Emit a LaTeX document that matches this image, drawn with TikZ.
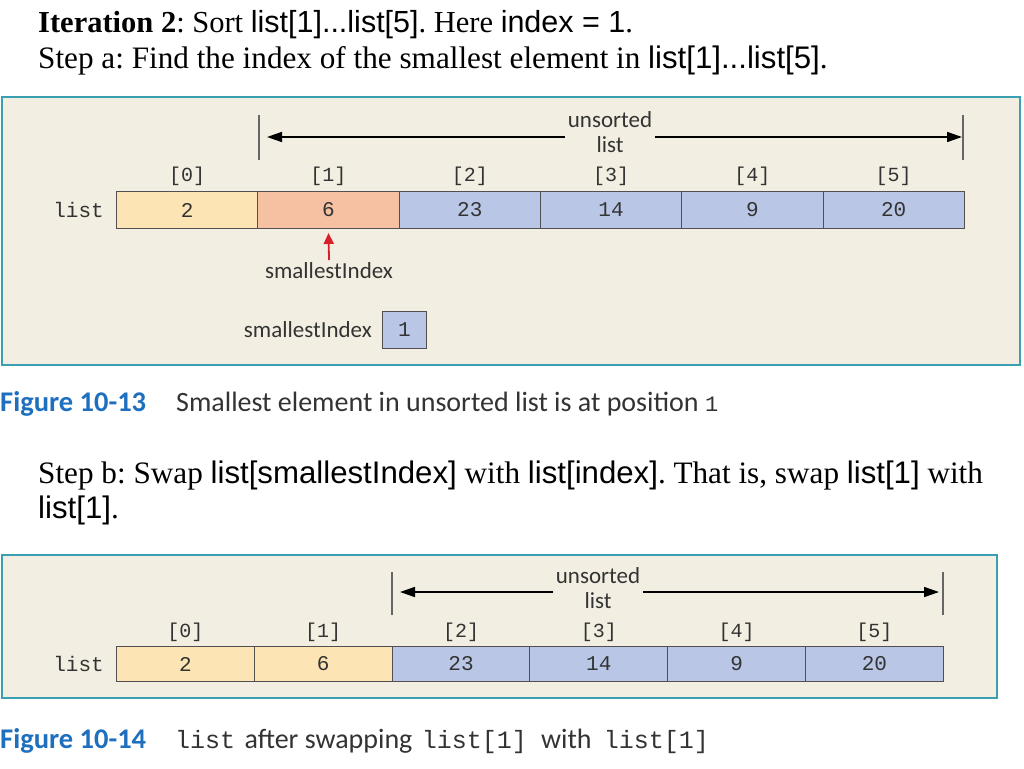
\documentclass[tikz,border=0pt]{standalone}
\usepackage{fontspec}
\setmainfont{Liberation Serif}
\setmonofont{Liberation Mono}
\newfontfamily\arialf{Liberation Sans}
\newfontfamily\carl{Carlito}
\usetikzlibrary{arrows.meta}
\definecolor{panelfill}{HTML}{F2EFE2}
\definecolor{panelborder}{HTML}{3A9FB0}
\definecolor{cellyellow}{HTML}{FCE4B4}
\definecolor{cellsalmon}{HTML}{F6C1A2}
\definecolor{cellblue}{HTML}{B9C6E6}
\definecolor{cellline}{HTML}{505050}
\definecolor{figblue}{HTML}{1F6FBF}
\definecolor{redarrow}{HTML}{D8202A}
\definecolor{textgray}{HTML}{333333}
\frenchspacing
\begin{document}
\begin{tikzpicture}[x=1pt,y=-1pt,
  panel/.style={draw=panelborder, line width=2.5pt, fill=panelfill},
  headline/.style={anchor=base west, inner sep=0pt, font=\fontsize{30.5}{36}\selectfont, text=black},
  headlineb/.style={headline, font=\fontsize{31.2}{36}\selectfont},
  cellbox/.style={draw=cellline, line width=1pt, minimum height=37pt, inner sep=0pt, anchor=north west, font=\ttfamily\fontsize{21}{21}\selectfont, text=textgray},
  idxlabel/.style={inner sep=0pt, font=\ttfamily\fontsize{20}{20}\selectfont, text=textgray},
  listlabel/.style={inner sep=0pt, anchor=east, font=\ttfamily\fontsize{21}{21}\selectfont, text=textgray},
  sanslabel/.style={inner sep=2pt, font=\carl\fontsize{23}{25}\selectfont, text=textgray},
  ticklines/.style={draw=gray!80!black, line width=1.2pt},
  unsarrow/.style={draw=black, line width=1.6pt, -{Triangle[length=15pt,width=10pt]}},
  redarr/.style={draw=redarrow, line width=1.8pt, -{Triangle[length=11pt,width=10pt]}},
  figlabel/.style={anchor=base west, inner sep=0pt, font=\carl\bfseries\fontsize{28.5}{28}\selectfont, text=figblue},
  figtext/.style={anchor=base west, inner sep=0pt, font=\carl\fontsize{28}{28}\selectfont, text=textgray}
]
\newcommand\capmono[1]{{\ttfamily\fontsize{25}{25}\selectfont #1}}
\useasboundingbox (0,0) rectangle (1024,768);
\fill[white] (0,0) rectangle (1024,768);

% headings
\node[headline] (h1) at (38,33) {\textbf{Iteration 2}: Sort {\arialf list[1]...list[5]}. Here {\arialf index = 1}.};
\node[headlineb] (h2) at (38,68) {Step a: Find the index of the smallest element in {\arialf list[1]...list[5]}.};

% panel 1
\draw[panel] (2,97) rectangle (1020,365);
\foreach \i/\v/\c in {0/2/cellyellow,1/6/cellsalmon,2/23/cellblue,3/14/cellblue,4/9/cellblue,5/20/cellblue}{
  \node[cellbox, minimum width=141.3pt, fill=\c] (a\i) at ({116+141.3*\i},191) {\v};
  \path (a\i.north) ++(0,-15) node[idxlabel] (ai\i) {[\i]};
}
\node[listlabel] (al) at ([xshift=-12pt]a0.west) {list};
\coordinate (ta1) at (259,115); \coordinate (tb1) at (259,160);
\coordinate (tc1) at (963,115); \coordinate (td1) at (963,160);
\coordinate (la1) at (259,137); \coordinate (ra1) at (963,137);
\draw[ticklines] (ta1) -- (tb1);
\draw[ticklines] (tc1) -- (td1);
\node[sanslabel, align=center, inner sep=3pt] (u1) at (610,132) {unsorted\\list};
\draw[unsarrow, shorten >=8pt] (u1.west |- la1) -- (la1);
\draw[unsarrow, shorten >=1pt] (u1.east |- ra1) -- (ra1);
\node[sanslabel, anchor=north] (s1) at (329,260) {smallestIndex};
\draw[redarr, shorten >=4pt] (s1.north) -- (a1.south);
\node[cellbox, minimum width=44pt, fill=cellblue] (sb) at (382,311) {1};
\node[sanslabel, anchor=east] (sl) at ([xshift=-8pt]sb.west) {smallestIndex};

% caption 1
\node[figlabel] (f1) at (0,411) {Figure 10-13};
\node[figtext] (f1t) at (176,411) {Smallest element in unsorted list is at position {\ttfamily\fontsize{22}{22}\selectfont 1}};

% step b
\node[headlineb] (h3) at (38,483) {Step b: Swap {\arialf list[smallestIndex]} with {\arialf list[index]}. That is, swap {\arialf list[1]} with};
\node[headlineb] (h4) at (38,518) {{\arialf list[1]}.};

% panel 2
\draw[panel] (2,555) rectangle (997,698);
\foreach \i/\v/\c in {0/2/cellyellow,1/6/cellyellow,2/23/cellblue,3/14/cellblue,4/9/cellblue,5/20/cellblue}{
  \node[cellbox, minimum width=137.8pt, minimum height=35pt, fill=\c] (b\i) at ({116+137.8*\i},646) {\v};
  \path (b\i.north) ++(0,-14) node[idxlabel] (bi\i) {[\i]};
}
\node[listlabel] (bl) at ([xshift=-12pt]b0.west) {list};
\coordinate (ta2) at (392,572); \coordinate (tb2) at (392,615);
\coordinate (tc2) at (943,572); \coordinate (td2) at (943,615);
\coordinate (la2) at (392,592); \coordinate (ra2) at (943,592);
\draw[ticklines] (ta2) -- (tb2);
\draw[ticklines] (tc2) -- (td2);
\node[sanslabel, align=center, inner sep=3pt] (u2) at (598,588) {unsorted\\list};
\draw[unsarrow, shorten >=8pt] (u2.west |- la2) -- (la2);
\draw[unsarrow, shorten >=4pt] (u2.east |- ra2) -- (ra2);

% caption 2
\node[figlabel] (f2) at (0,748) {Figure 10-14};
\node[figtext] (f2t) at (175,748) {\capmono{list}\hspace{3pt} after swapping\hspace{3pt} \capmono{list[1]}\hspace{8pt} with\hspace{6pt} \capmono{list[1]}};
\end{tikzpicture}
\end{document}
